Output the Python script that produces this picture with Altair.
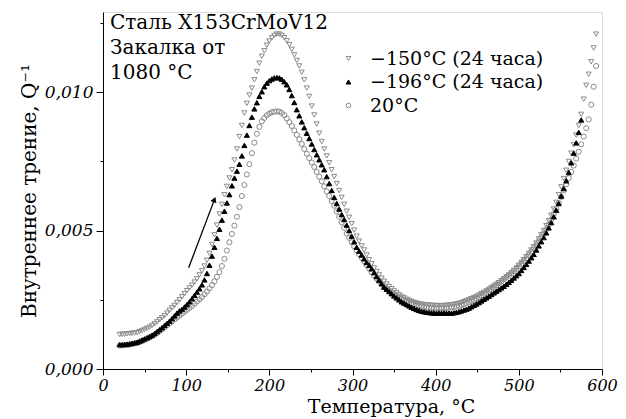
import altair as alt
import pandas as pd

# measurement grid (°C), 3-degree steps
temps = list(range(20, 594, 3))

# internal friction Q^-1, in units of 1e-3
q_m150 = [1.25, 1.25, 1.26, 1.27, 1.28, 1.29, 1.30, 1.31, 1.35, 1.39,
          1.43, 1.47, 1.51, 1.57, 1.63, 1.70, 1.78, 1.85, 1.93, 2.02,
          2.12, 2.21, 2.30, 2.40, 2.50, 2.61, 2.72, 2.83, 2.93, 3.03,
          3.14, 3.26, 3.40, 3.55, 3.72, 3.93, 4.18, 4.50, 4.85, 5.20,
          5.60, 5.95, 6.30, 6.60, 6.90, 7.20, 7.55, 7.95, 8.40, 8.80,
          9.25, 9.60, 9.90, 10.15, 10.45, 10.75, 11.05, 11.30, 11.50, 11.70,
          11.85, 11.97, 12.05, 12.10, 12.10, 12.05, 11.97, 11.86, 11.72, 11.55,
          11.35, 11.15, 10.95, 10.72, 10.45, 10.15, 9.85, 9.50, 9.18, 8.85,
          8.52, 8.22, 7.95, 7.70, 7.45, 7.20, 6.95, 6.70, 6.45, 6.20,
          5.95, 5.70, 5.48, 5.25, 5.02, 4.80, 4.62, 4.45, 4.30, 4.12,
          3.95, 3.80, 3.65, 3.52, 3.40, 3.28, 3.17, 3.07, 2.98, 2.90,
          2.82, 2.75, 2.68, 2.62, 2.57, 2.52, 2.48, 2.44, 2.41, 2.38,
          2.36, 2.34, 2.33, 2.32, 2.31, 2.30, 2.30, 2.29, 2.29, 2.29,
          2.29, 2.30, 2.31, 2.32, 2.33, 2.35, 2.37, 2.40, 2.43, 2.47,
          2.50, 2.54, 2.58, 2.62, 2.67, 2.72, 2.77, 2.82, 2.88, 2.94,
          3.00, 3.06, 3.12, 3.19, 3.26, 3.33, 3.40, 3.48, 3.56, 3.65,
          3.75, 3.85, 3.95, 4.06, 4.18, 4.30, 4.42, 4.55, 4.70, 4.85,
          5.00, 5.18, 5.36, 5.55, 5.78, 6.02, 6.30, 6.58, 6.88, 7.18,
          7.50, 7.80, 8.10, 8.45, 8.80, 9.20, 9.75, 10.25, 10.65, 11.10,
          11.60, 12.10]

q_m196 = [0.88, 0.88, 0.89, 0.90, 0.91, 0.93, 0.95, 0.97, 1.01, 1.05,
          1.09, 1.13, 1.17, 1.22, 1.28, 1.35, 1.42, 1.49, 1.57, 1.65,
          1.73, 1.82, 1.92, 2.02, 2.10, 2.16, 2.24, 2.33, 2.43, 2.54,
          2.66, 2.78, 2.90, 3.04, 3.22, 3.45, 3.75, 4.08, 4.40, 4.72,
          5.05, 5.38, 5.70, 6.00, 6.30, 6.62, 6.90, 7.15, 7.40, 7.70,
          8.08, 8.45, 8.80, 9.10, 9.40, 9.62, 9.85, 10.02, 10.20, 10.33,
          10.42, 10.48, 10.52, 10.53, 10.52, 10.47, 10.38, 10.27, 10.10, 9.88,
          9.63, 9.37, 9.15, 8.93, 8.72, 8.52, 8.33, 8.13, 7.93, 7.74,
          7.56, 7.38, 7.20, 6.95, 6.70, 6.45, 6.20, 5.98, 5.78, 5.58,
          5.40, 5.20, 5.00, 4.80, 4.60, 4.40, 4.26, 4.12, 3.98, 3.85,
          3.74, 3.62, 3.48, 3.34, 3.21, 3.08, 2.96, 2.88, 2.80, 2.72,
          2.64, 2.57, 2.50, 2.43, 2.38, 2.33, 2.28, 2.23, 2.19, 2.15,
          2.12, 2.09, 2.07, 2.05, 2.04, 2.03, 2.02, 2.02, 2.02, 2.02,
          2.02, 2.02, 2.02, 2.02, 2.03, 2.05, 2.07, 2.10, 2.13, 2.16,
          2.20, 2.25, 2.30, 2.35, 2.40, 2.46, 2.52, 2.57, 2.63, 2.69,
          2.75, 2.81, 2.87, 2.93, 2.99, 3.06, 3.13, 3.21, 3.29, 3.37,
          3.45, 3.56, 3.67, 3.78, 3.90, 4.02, 4.14, 4.30, 4.45, 4.60,
          4.75, 4.92, 5.10, 5.29, 5.50, 5.74, 5.98, 6.25, 6.52, 6.80,
          7.10, 7.45, 7.80, 8.17, 8.55, 9.00]

q_20 = [0.85, 0.85, 0.86, 0.87, 0.88, 0.90, 0.92, 0.94, 0.97, 1.01,
        1.05, 1.09, 1.14, 1.19, 1.24, 1.30, 1.37, 1.44, 1.51, 1.58,
        1.65, 1.72, 1.79, 1.86, 1.93, 2.00, 2.07, 2.14, 2.21, 2.28,
        2.36, 2.44, 2.52, 2.60, 2.70, 2.80, 2.91, 3.03, 3.17, 3.33,
        3.50, 3.72, 3.98, 4.28, 4.58, 4.88, 5.18, 5.50, 5.85, 6.25,
        6.65, 7.03, 7.40, 7.80, 8.18, 8.50, 8.75, 8.95, 9.07, 9.17,
        9.23, 9.28, 9.30, 9.31, 9.30, 9.25, 9.17, 9.05, 8.92, 8.78,
        8.62, 8.46, 8.30, 8.13, 7.95, 7.78, 7.62, 7.46, 7.30, 7.12,
        6.95, 6.78, 6.60, 6.42, 6.25, 6.07, 5.90, 5.70, 5.50, 5.30,
        5.10, 4.90, 4.74, 4.58, 4.43, 4.29, 4.15, 4.02, 3.89, 3.76,
        3.63, 3.50, 3.38, 3.26, 3.16, 3.07, 2.98, 2.90, 2.83, 2.76,
        2.70, 2.64, 2.59, 2.54, 2.49, 2.45, 2.41, 2.38, 2.35, 2.32,
        2.29, 2.27, 2.25, 2.23, 2.22, 2.21, 2.20, 2.20, 2.20, 2.20,
        2.20, 2.21, 2.22, 2.23, 2.24, 2.26, 2.28, 2.31, 2.34, 2.38,
        2.42, 2.46, 2.50, 2.55, 2.60, 2.66, 2.72, 2.78, 2.84, 2.90,
        2.96, 3.03, 3.10, 3.17, 3.24, 3.31, 3.38, 3.46, 3.54, 3.62,
        3.71, 3.80, 3.90, 4.00, 4.12, 4.24, 4.36, 4.49, 4.62, 4.76,
        4.90, 5.06, 5.22, 5.40, 5.60, 5.80, 6.00, 6.22, 6.45, 6.68,
        6.90, 7.12, 7.35, 7.60, 7.85, 8.12, 8.40, 8.70, 9.02, 9.55,
        10.20, 10.95]

series_labels = ["−150°C (24 часа)", "−196°C (24 часа)", "20°C"]
note_lines = ["Сталь X153CrMoV12", "Закалка от", "1080 °C"]

# heating-direction arrow (temperature, Q^-1)
arrow_T = [103, 134]
arrow_Q = [0.00366, 0.00612]

rows = []
for lab, vals in [(series_labels[0], q_m150), (series_labels[2], q_20), (series_labels[1], q_m196)]:
    for t, v in zip(temps, vals):
        rows.append({"T": t, "Q": v / 1000.0, "series": lab})
df = pd.DataFrame(rows)

FONT = "DejaVu Serif"
GREY = "#8a8a8a"

x_ticks = list(range(0, 601, 50))
y_ticks = [0, 0.0025, 0.005, 0.0075, 0.01, 0.0125]

xs = alt.Scale(domain=[0, 600], nice=False)
ys = alt.Scale(domain=[0, 0.0129], nice=False, zero=False)

leg = alt.Legend(
    title=None, orient="none", legendX=236, legendY=37,
    labelFont=FONT, labelFontSize=19, labelColor="black", labelLimit=400,
    symbolSize=22, symbolStrokeWidth=1, labelOffset=12, rowPadding=3.5,
)

x_axis = alt.Axis(
    values=x_ticks, title="Температура, °C", titleFont=FONT, titleFontSize=19,
    titleFontWeight="normal", titleColor="black", titleX=288, titleY=43,
    titleBaseline="alphabetic",
    labelExpr="datum.value % 100 != 0 ? '' : format(datum.value, 'd')",
    labelFont=FONT, labelFontStyle="italic", labelFontSize=16, labelColor="black",
    labelPadding=2, labelFlush=False, labelOverlap=False,
    tickSize={"condition": {"test": "datum.value % 100 != 0", "value": 3}, "value": 6},
    tickColor="black", domainColor="black", grid=False,
)
y_axis = alt.Axis(
    values=y_ticks, title="Внутреннее трение, Q⁻¹", titleFont=FONT, titleFontSize=20,
    titleFontWeight="normal", titleColor="black", titlePadding=5,
    labelExpr="round(datum.value * 10000) % 50 != 0 ? '' : replace(format(datum.value, '.3f'), '.', ',')",
    labelFont=FONT, labelFontStyle="italic", labelFontSize=17, labelColor="black",
    labelPadding=3, labelOverlap=False,
    tickSize={"condition": {"test": "round(datum.value * 10000) % 50 != 0", "value": 3}, "value": 7},
    tickColor="black", domainColor="black", grid=False,
)

points = alt.Chart(df).mark_point(size=26, strokeWidth=1, opacity=1).encode(
    x=alt.X("T:Q", scale=xs, axis=x_axis),
    y=alt.Y("Q:Q", scale=ys, axis=y_axis),
    shape=alt.Shape("series:N", scale=alt.Scale(domain=series_labels,
                    range=["triangle-down", "triangle-up", "circle"]), legend=leg),
    stroke=alt.Stroke("series:N", scale=alt.Scale(domain=series_labels,
                      range=[GREY, "#000000", GREY]), legend=leg),
    fill=alt.Fill("series:N", scale=alt.Scale(domain=series_labels,
                  range=["transparent", "#000000", "transparent"]), legend=leg),
)

arrow_df = pd.DataFrame({"T": [arrow_T[0]], "Q": [arrow_Q[0]], "T2": [arrow_T[1]], "Q2": [arrow_Q[1]]})
arrow = alt.Chart(arrow_df).mark_rule(color="black", strokeWidth=1.3).encode(
    x=alt.X("T:Q", scale=xs), y=alt.Y("Q:Q", scale=ys), x2="T2:Q", y2="Q2:Q"
)
head_df = pd.DataFrame({"T": [arrow_T[1]], "Q": [arrow_Q[1]]})
head = alt.Chart(head_df).mark_point(shape="triangle-up", filled=True, color="black",
                                     size=40, angle=21, opacity=1).encode(
    x=alt.X("T:Q", scale=xs), y=alt.Y("Q:Q", scale=ys)
)

note = alt.Chart(pd.DataFrame({"t": [note_lines]})).mark_text(
    align="left", baseline="alphabetic", font=FONT, fontSize=20, color="black",
    lineHeight=25,
).encode(x=alt.value(7), y=alt.value(17), text="t")

chart = alt.layer(points, arrow, head, note).properties(
    width=499, height=357,
    padding={"left": 95, "top": 4, "right": 16, "bottom": 48},
    autosize=alt.AutoSizeParams(type="none"),
).configure_view(stroke=None).configure_axis(
    titleFont=FONT, labelFont=FONT
).configure(background="white")

chart.save("out.html", embed_options={"renderer": "svg", "actions": False})
